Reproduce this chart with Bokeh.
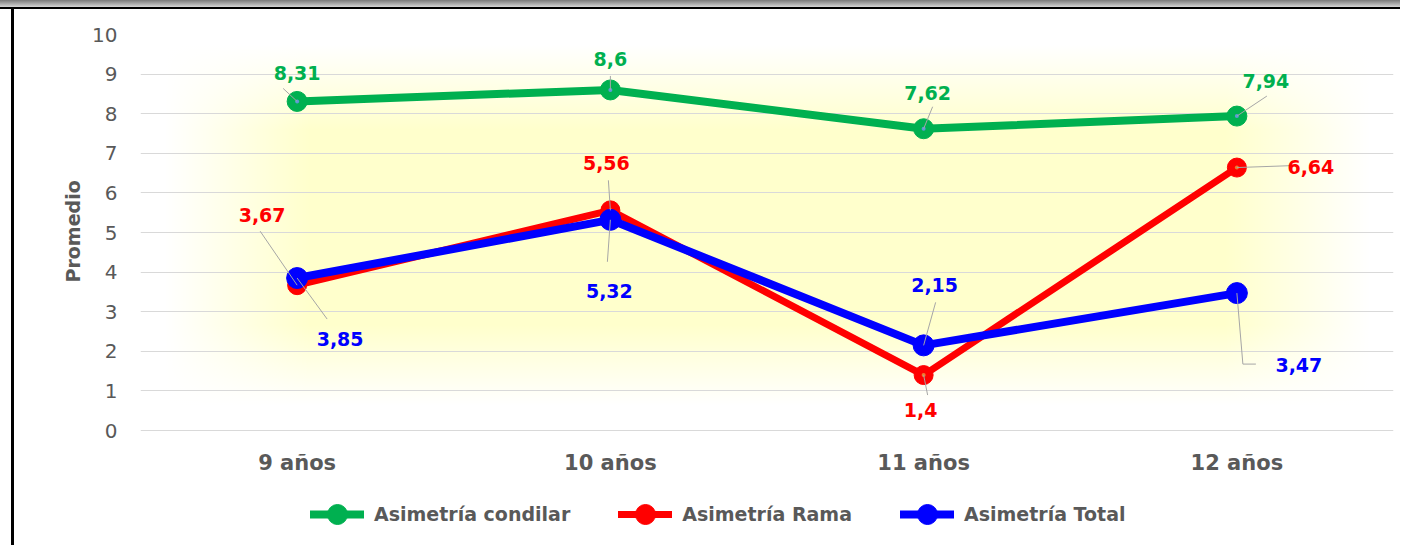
from bokeh.plotting import figure
from bokeh.models import (ColumnDataSource, Range1d, FixedTicker, Legend, LegendItem, Title)
from bokeh.embed import file_html
from bokeh.resources import INLINE
from bokeh.core.properties import value

# ---------------- data ----------------
categories = ["9 años", "10 años", "11 años", "12 años"]
condilar = [8.31, 8.6, 7.62, 7.94]
rama = [3.67, 5.56, 1.4, 6.64]
total = [3.85, 5.32, 2.15, 3.47]
series_names = ["Asimetría condilar", "Asimetría Rama", "Asimetría Total"]
y_ticks = [0, 1, 2, 3, 4, 5, 6, 7, 8, 9, 10]
y_title = "Promedio"

# ---------------- styles ----------------
FONT = "DejaVu Sans"
GRAY = "#595959"
colors = ["#00B050", "#FF0000", "#0000FF"]
center_dot = ["#5B9BD5", "#ED7D31", "#0000FF"]
line_widths = [8, 7, 8]
marker_sizes = [20, 19, 21]

W, H = 1400, 545
BL, BR, BT = 140, 7, 34
GRID_H = 396                      # pixel height of the 0..10 band
FRAME_W = W - BL - BR
FRAME_H = H - BT                  # frame runs down to the bottom (legend lives inside)

# label offsets in px (dx right, dy down) per series, per point
label_offsets = [
    [(0, -28), (0, -31), (4, -36), (29, -35)],
    [(-35, -70), (-4, -47), (-3, 35), (74, -1)],
    [(43, 61), (-1, 71), (11, -60), (62, 72)],
]
# leader lines in px relative to the point (dx right, dy down)
leaders = [
    [[(-14, -13), (0, 0)], [(0, -14), (0, 0)], [(9, -22), (0, 0)], [(30, -20), (0, 0)]],
    [[(-37, -54), (0, 0)], [(-2, -30), (0, 0)], [(0, 0), (4, 20)], [(0, 0), (57, -2)]],
    [[(0, 0), (30, 41)], [(0, 0), (-3, 42)], [(12, -43), (0, 0)], [(0, 0), (6, 71), (19, 71)]],
]

n = len(categories)
x_pos = [i + 0.5 for i in range(n)]
y_min, y_max = y_ticks[0], y_ticks[-1]
px_x = FRAME_W / n
px_y = GRID_H / (y_max - y_min)
y_start = y_min - (FRAME_H - GRID_H) / px_y

p = figure(width=W, height=H, output_backend="svg", toolbar_location=None,
           x_range=Range1d(0, n), y_range=Range1d(y_start, y_max),
           min_border_left=BL, min_border_right=BR, min_border_top=BT,
           min_border_bottom=0)
p.background_fill_alpha = 0
p.border_fill_alpha = 0
p.outline_line_color = None
p.styles = {
    "background": ", ".join([
        "linear-gradient(to bottom, #7a7a7a 0px, #d6d6d6 7px, #000000 7px, #000000 9px, rgba(255,255,255,0) 9px)",
        "linear-gradient(to right, rgba(255,255,255,0) 11px, #000000 11px, #000000 14px, rgba(255,255,255,0) 14px)",
        "linear-gradient(to right, #ffffff 165px, rgba(255,255,255,0) 310px, rgba(255,255,255,0) 1225px, #ffffff 1370px)",
        "linear-gradient(to bottom, #ffffff 45px, rgba(255,255,255,0) 130px, rgba(255,255,255,0) 325px, #ffffff 405px)",
        "#FFFFCC",
    ]),
}

# axes
p.xgrid.grid_line_color = None
p.ygrid.grid_line_color = "#D9D9D9"
p.ygrid.grid_line_width = 1
p.yaxis.ticker = FixedTicker(ticks=y_ticks)
p.xaxis.ticker = FixedTicker(ticks=x_pos)
p.xaxis.major_label_overrides = {xp: c for xp, c in zip(x_pos, categories)}
p.xaxis.fixed_location = y_min
for ax in (p.xaxis, p.yaxis):
    ax.axis_line_color = None
    ax.major_tick_line_color = None
    ax.minor_tick_line_color = None
    ax.major_label_text_font = FONT
    ax.major_label_text_color = GRAY
p.yaxis.major_label_text_font_size = "20px"
p.yaxis.major_label_standoff = 17
p.xaxis.major_label_text_font_size = "21px"
p.xaxis.major_label_text_font_style = "bold"
p.xaxis.major_label_standoff = 14

# y title, centred on the 0..10 band
t = Title(text=y_title, align="left", offset=(FRAME_H - GRID_H) + GRID_H / 2 - 50,
          text_font=FONT, text_font_size="19px", text_font_style="bold",
          text_color=GRAY, standoff=12)
p.add_layout(t, "left")

# series
items = []
for k, (name, vals) in enumerate(zip(series_names, [condilar, rama, total])):
    src = ColumnDataSource(dict(x=x_pos, y=vals))
    lr = p.line("x", "y", source=src, line_color=colors[k], line_width=line_widths[k],
                line_cap="round", line_join="round")
    cr = p.scatter("x", "y", source=src, size=marker_sizes[k], marker="circle",
                   fill_color=colors[k], line_color=colors[k])
    p.scatter("x", "y", source=src, size=4, marker="circle",
              fill_color=center_dot[k], line_color=None)
    items.append(LegendItem(label=name, renderers=[lr, cr]))

# leader lines and labels
for k, vals in enumerate([condilar, rama, total]):
    xs, ys = [], []
    for i, v in enumerate(vals):
        pts = leaders[k][i]
        xs.append([x_pos[i] + dx / px_x for dx, dy in pts])
        ys.append([v - dy / px_y for dx, dy in pts])
    p.multi_line(xs, ys, line_color="#A6A6A6", line_width=1)

for k, vals in enumerate([condilar, rama, total]):
    src = ColumnDataSource(dict(
        x=x_pos, y=vals,
        t=[f"{v:g}".replace(".", ",") for v in vals],
        dx=[o[0] for o in label_offsets[k]],
        dy=[o[1] for o in label_offsets[k]],
    ))
    p.text("x", "y", text="t", source=src, x_offset="dx", y_offset="dy",
           text_align="center", text_baseline="middle",
           text_font=value(FONT), text_font_size="19px", text_font_style="bold",
           text_color=colors[k])

legend = Legend(items=items, orientation="horizontal", location=(170, 6),
                glyph_width=54, glyph_height=50, label_standoff=10, spacing=48,
                padding=0, margin=0, background_fill_alpha=0, border_line_color=None,
                label_text_font=FONT, label_text_font_size="19px",
                label_text_font_style="bold", label_text_color=GRAY)
p.add_layout(legend, "center")

open("out.html", "w").write(file_html(p, INLINE))
